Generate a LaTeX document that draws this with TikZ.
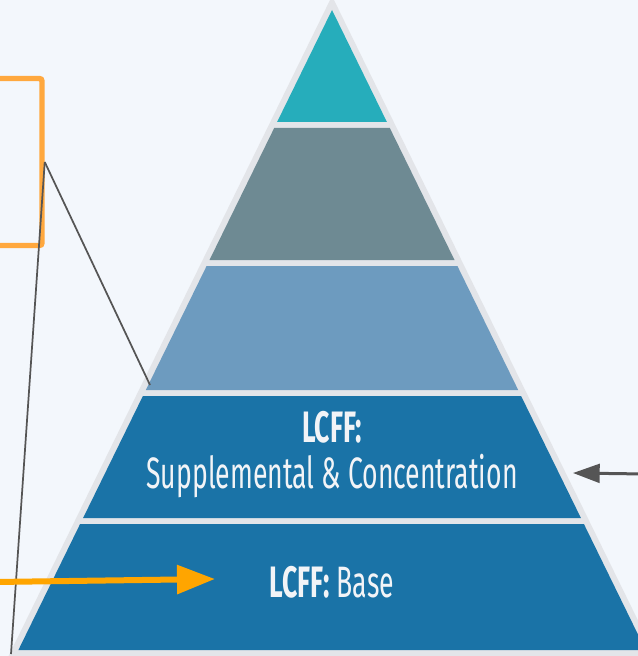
\documentclass[tikz,border=0pt]{standalone}
\usepackage{fontspec}
\setmainfont{Fira Sans}
\newfontfamily\condf[FakeStretch=0.605]{Fira Sans}
\usetikzlibrary{arrows.meta}
\definecolor{bgc}{HTML}{F3F7FC}
\definecolor{rimc}{HTML}{E3E5E9}
\definecolor{tealc}{HTML}{26ADBB}
\definecolor{slatec}{HTML}{6E8A93}
\definecolor{steelc}{HTML}{6D9BBF}
\definecolor{bluec}{HTML}{1A73A7}
\definecolor{orc}{HTML}{FFA83E}
\definecolor{orarrc}{HTML}{FFA500}
\definecolor{grayln}{HTML}{555555}
\definecolor{txtc}{HTML}{F2F4F7}
\tikzset{
  lbl/.style={text=txtc, font=\condf\fontsize{33}{38}\selectfont, inner sep=0pt, anchor=base},
  obox/.style={draw=orc, line width=4.1pt, rounded corners=2pt, minimum width=46.5pt, minimum height=125.25pt, inner sep=0pt},
  thinln/.style={draw=grayln, line width=1.3pt},
  orarrow/.style={draw=orarrc, line width=4.5pt, -{Triangle[length=28.5pt, width=21pt]}},
  grarrow/.style={draw=grayln, line width=2.25pt, -{Triangle[length=20pt, width=14pt]}}
}
\begin{document}
\begin{tikzpicture}[x=0.75pt,y=-0.75pt]
\useasboundingbox (0,0) rectangle (638,656);
\fill[bgc] (0,0) rectangle (638,656);
% outer rim
\fill[rimc] (332,-4) -- (3.7,666) -- (660.3,666) -- cycle;
% bands
\fill[tealc]  (332,10) -- (277.1,122) -- (386.9,122) -- cycle;
\fill[slatec] (274.2,128) -- (389.8,128) -- (454.5,260) -- (209.5,260) -- cycle;
\fill[steelc] (206.6,266) -- (457.4,266) -- (518.2,390) -- (145.8,390) -- cycle;
\fill[bluec]  (142.9,396) -- (521.1,396) -- (580.9,518) -- (83.1,518) -- cycle;
\fill[bluec]  (80.1,524) -- (583.9,524) -- (645.6,650) -- (18.4,650) -- cycle;
% labels
\node[lbl] (t4a) at (332,442) {\bfseries LCFF:};
\node[lbl] (t4b) at (332,488) {Supplemental \& Concentration};
\node[lbl] (t5) at (332,597) {\textbf{LCFF:} Base};
% orange box and lines
\node[obox] (box) at (11,162) {};
\coordinate (e1) at (150,385);
\coordinate (e2) at (11,654);
\draw[thinln] (box.east) -- (e1);
\draw[thinln] (box.east) -- (e2);
% arrows
\coordinate (oa) at (-5,582);
\coordinate (ob) at (215,579);
\draw[orarrow] (oa) -- (ob);
\coordinate (ga) at (645,474);
\coordinate (gb) at (573,473);
\draw[grarrow] (ga) -- (gb);
\end{tikzpicture}
\end{document}
